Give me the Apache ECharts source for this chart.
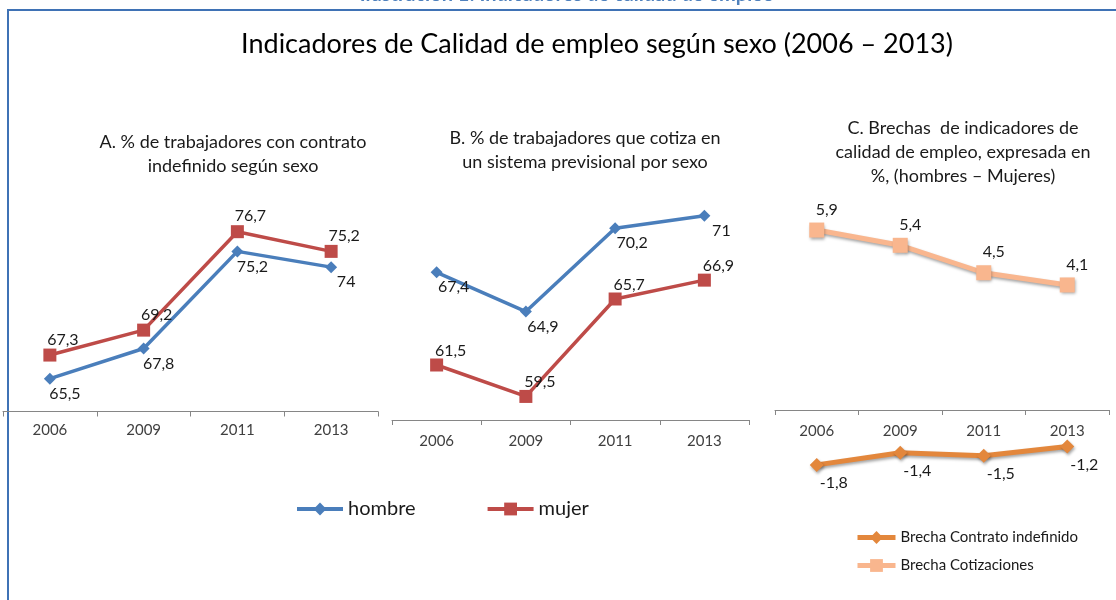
<!DOCTYPE html>
<html>
<head>
<meta charset="utf-8">
<script src="https://cdn.jsdelivr.net/npm/echarts@6/dist/echarts.min.js"></script>
<style>
  html, body { margin: 0; padding: 0; background: #fff; }
  #chart { width: 1116px; height: 600px; }
</style>
</head>
<body>
<div id="chart"></div>
<script>
var years = ['2006', '2009', '2011', '2013'];

// A. contrato indefinido
var contratoHombre = [65.5, 67.8, 75.2, 74];
var contratoMujer = [67.3, 69.2, 76.7, 75.2];

// B. cotiza en sistema previsional
var cotizaHombre = [67.4, 64.9, 70.2, 71];
var cotizaMujer = [61.5, 59.5, 65.7, 66.9];

// C. brechas (hombres - mujeres)
var brechaContrato = [-1.8, -1.4, -1.5, -1.2];
var brechaCotiz = [5.9, 5.4, 4.5, 4.1];

var FONT = 'Lato';
var BLUE = '#4A7EBB', RED = '#BE4B48', ORANGE = '#E3873C', PEACH = '#F9B68E';

function comma(p) {
  return String(p.value).replace('.', ',');
}

function xAxis(idx, margin) {
  return {
    type: 'category', gridIndex: idx, data: years, boundaryGap: true,
    axisLine: { onZero: false, lineStyle: { color: '#868686', width: 1 } },
    axisTick: { show: true, length: 5, lineStyle: { color: '#868686' } },
    axisLabel: { color: '#404040', fontFamily: FONT, fontSize: 15, margin: margin }
  };
}

function yAxis(idx, min, max) {
  return { type: 'value', gridIndex: idx, min: min, max: max, show: false, splitLine: { show: false } };
}

function line(name, idx, data, color, symbol, size, width, pos, offset) {
  return {
    name: name, type: 'line', xAxisIndex: idx, yAxisIndex: idx, data: data,
    symbol: symbol, symbolSize: size, showAllSymbol: true, clip: false,
    lineStyle: { color: color, width: width },
    itemStyle: { color: color },
    label: {
      show: true, position: pos, offset: offset, formatter: comma,
      fontFamily: FONT, fontSize: 16, color: '#1a1a1a'
    },
    z: 3
  };
}

var chart = echarts.init(document.getElementById('chart'), null, { renderer: 'canvas' });

var subStyle = { fontFamily: FONT, fontSize: 18, fontWeight: 'normal', color: '#1a1a1a', lineHeight: 24 };

// panel C: the x axis sits on zero, the negative series hangs below the grid
var shadow = { shadowColor: 'rgba(0,0,0,0.35)', shadowBlur: 3, shadowOffsetX: 1, shadowOffsetY: 2 };
var serieContrato = line('Brecha Contrato indefinido', 2, brechaContrato, ORANGE, 'diamond', 14, 5, 'bottom', [17, -2]);
var serieCotiz = line('Brecha Cotizaciones', 2, brechaCotiz, PEACH, 'rect', 15, 5, 'top', [10, 0]);
Object.assign(serieContrato.lineStyle, shadow);
Object.assign(serieContrato.itemStyle, shadow);
Object.assign(serieCotiz.lineStyle, shadow);
Object.assign(serieCotiz.itemStyle, shadow);

chart.setOption({
  animation: false,
  backgroundColor: '#fff',
  graphic: [
    {
      type: 'rect', shape: { x: 8, y: 10, width: 1200, height: 700 },
      style: { fill: 'none', stroke: '#3F72B5', lineWidth: 2 }, silent: true
    },
    {
      type: 'text', x: 567, y: 5,
      style: {
        text: 'Ilustración 1: Indicadores de calidad de empleo', align: 'center', verticalAlign: 'bottom',
        fontFamily: FONT, fontSize: 20, fontWeight: 'bold', fill: '#4F81BD'
      }
    }
  ],
  title: [
    {
      text: 'Indicadores de Calidad de empleo según sexo (2006 – 2013)',
      left: 592, top: 26, textAlign: 'center',
      textStyle: { fontFamily: FONT, fontSize: 27, fontWeight: 'normal', color: '#000' }
    },
    { text: 'A. % de trabajadores con contrato\nindefinido según sexo', left: 228, top: 125, textAlign: 'center', textStyle: subStyle },
    { text: 'B. % de trabajadores que cotiza en\nun sistema previsional por sexo', left: 580, top: 121, textAlign: 'center', textStyle: subStyle },
    { text: 'C. Brechas  de indicadores de\ncalidad de empleo, expresada en\n%, (hombres – Mujeres)', left: 958, top: 111, textAlign: 'center', textStyle: subStyle }
  ],
  legend: [
    {
      data: ['hombre', 'mujer'], left: 290, top: 494, itemWidth: 46, itemHeight: 16, itemGap: 70,
      lineStyle: { width: 4 },
      textStyle: { fontFamily: FONT, fontSize: 20, color: '#1a1a1a' }
    },
    {
      data: ['Brecha Contrato indefinido', 'Brecha Cotizaciones'], orient: 'vertical',
      left: 850, top: 525, itemWidth: 38, itemHeight: 16, itemGap: 13,
      lineStyle: { width: 5 },
      textStyle: { fontFamily: FONT, fontSize: 15, color: '#1a1a1a' }
    }
  ],
  grid: [
    { left: 3, top: 201.5, width: 375, height: 210 },
    { left: 392, top: 200, width: 357, height: 220 },
    { left: 775, top: 196.5, width: 334, height: 213.5 }
  ],
  xAxis: [xAxis(0, 11), xAxis(1, 14), xAxis(2, 14)],
  yAxis: [yAxis(0, 63, 79), yAxis(1, 58, 72), yAxis(2, 0, 7)],
  series: [
    line('hombre', 0, contratoHombre, BLUE, 'diamond', 12, 3.5, 'bottom', [15, -4]),
    line('mujer', 0, contratoMujer, RED, 'rect', 13, 3.5, 'top', [13, 4]),
    line('hombre', 1, cotizaHombre, BLUE, 'diamond', 12, 3.5, 'bottom', [17, -4]),
    line('mujer', 1, cotizaMujer, RED, 'rect', 13, 3.5, 'top', [14, 5]),
    serieContrato,
    serieCotiz
  ]
});
</script>
</body>
</html>
